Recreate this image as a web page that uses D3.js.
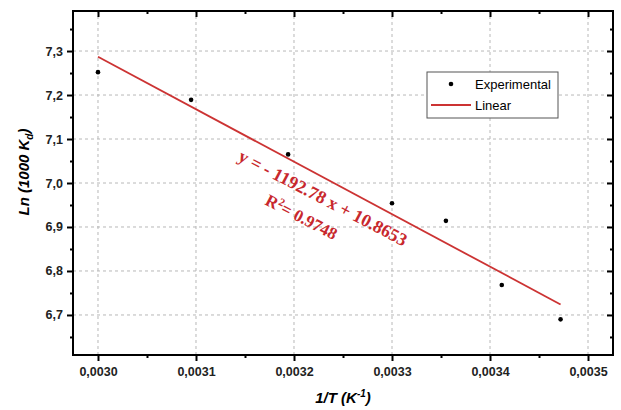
<!DOCTYPE html>
<meta charset="utf-8">
<head>
<style>
  body { margin: 0; background: #fff; }
  svg { display: block; font-family: Arial, "Liberation Sans", sans-serif; }
</style>
</head>
<body>
<svg id="chart" width="621" height="410"></svg>
<script src="https://cdnjs.cloudflare.com/ajax/libs/d3/7.8.5/d3.min.js"></script>
<script>

// data
var invT   = [0.0030, 0.003095, 0.003194, 0.0033, 0.003355, 0.003412, 0.003472];
var lnKd   = [7.252, 7.189, 7.065, 6.954, 6.914, 6.768, 6.690];
var xTicks = [0.0030, 0.0031, 0.0032, 0.0033, 0.0034, 0.0035];
var yTicks = [6.7, 6.8, 6.9, 7.0, 7.1, 7.2, 7.3];
var slope = -1192.78, intercept = 10.8653;
var fitLabel = "y = - 1192.78 x + 10.8653";
var r2Label = "0.9748";

var svg = d3.select("#chart");
var margin = {left: 73, right: 8, top: 11, bottom: 55};
var width = 621, height = 410;

var x = d3.scaleLinear().domain([0.0029745, 0.0035255]).range([margin.left, width - margin.right]);
var y = d3.scaleLinear().domain([6.609, 7.391]).range([height - margin.bottom, margin.top]);

var comma = function(d, n){ return d.toFixed(n).replace(".", ","); };
var xMinor = d3.range(0.00305, 0.0035, 0.0001);
var yMinor = d3.range(6.65, 7.39, 0.1);

// grid
var grid = svg.append("g").attr("stroke", "#b8b8b8").attr("stroke-dasharray", "3,3").attr("stroke-width", 1);
grid.selectAll("line.gx").data(xTicks).enter().append("line")
  .attr("x1", d => x(d)).attr("x2", d => x(d))
  .attr("y1", y.range()[0]).attr("y2", y.range()[1]);
grid.selectAll("line.gy").data(yTicks).enter().append("line")
  .attr("y1", d => y(d)).attr("y2", d => y(d))
  .attr("x1", x.range()[0]).attr("x2", x.range()[1]);

// axes (out on left/bottom, in on top/right)
function styleAxis(g){
  g.select(".domain").remove();
  g.selectAll("line").attr("stroke", "#000").attr("stroke-width", 2);
  g.selectAll("text").attr("font-weight", "bold").attr("font-size", 12.5).attr("fill", "#222");
}
svg.append("g").attr("transform", "translate(0," + y.range()[0] + ")")
  .call(d3.axisBottom(x).tickValues(xTicks).tickSize(6).tickPadding(6).tickFormat(d => comma(d, 4)))
  .call(styleAxis);
svg.append("g").attr("transform", "translate(0," + y.range()[0] + ")")
  .call(d3.axisBottom(x).tickValues(xMinor).tickSize(3).tickFormat(""))
  .call(styleAxis);
svg.append("g").attr("transform", "translate(" + x.range()[0] + ",0)")
  .call(d3.axisLeft(y).tickValues(yTicks).tickSize(6).tickPadding(4).tickFormat(d => comma(d, 1)))
  .call(styleAxis);
svg.append("g").attr("transform", "translate(" + x.range()[0] + ",0)")
  .call(d3.axisLeft(y).tickValues(yMinor).tickSize(3).tickFormat(""))
  .call(styleAxis);
svg.append("g").attr("transform", "translate(0," + y.range()[1] + ")")
  .call(d3.axisBottom(x).tickValues(xTicks).tickSize(6).tickFormat(""))
  .call(styleAxis);
svg.append("g").attr("transform", "translate(0," + y.range()[1] + ")")
  .call(d3.axisBottom(x).tickValues(xMinor).tickSize(3).tickFormat(""))
  .call(styleAxis);
svg.append("g").attr("transform", "translate(" + x.range()[1] + ",0)")
  .call(d3.axisRight(y).tickValues(yTicks).tickSize(-6).tickFormat(""))
  .call(styleAxis);
svg.append("g").attr("transform", "translate(" + x.range()[1] + ",0)")
  .call(d3.axisRight(y).tickValues(yMinor).tickSize(-3).tickFormat(""))
  .call(styleAxis);

// frame
svg.append("rect")
  .attr("x", x.range()[0]).attr("y", y.range()[1])
  .attr("width", x.range()[1] - x.range()[0]).attr("height", y.range()[0] - y.range()[1])
  .attr("fill", "none").attr("stroke", "#000").attr("stroke-width", 2);

// fit line
var x0 = invT[0], x1 = invT[invT.length - 1];
svg.append("line")
  .attr("x1", x(x0)).attr("y1", y(slope * x0 + intercept))
  .attr("x2", x(x1)).attr("y2", y(slope * x1 + intercept))
  .attr("stroke", "#cc3333").attr("stroke-width", 1.8);

// points
svg.selectAll("circle.pt").data(invT).enter().append("circle")
  .attr("cx", d => x(d)).attr("cy", (d, i) => y(lnKd[i]))
  .attr("r", 2.3).attr("fill", "#000");

// annotation
var ang = 27.5;
svg.append("text")
  .attr("transform", "translate(237,160) rotate(" + ang + ")")
  .attr("font-family", "'Liberation Serif', 'DejaVu Serif', serif")
  .attr("font-weight", "bold").attr("font-size", 18).attr("fill", "#c8282d")
  .text(fitLabel);
var r2 = svg.append("text")
  .attr("transform", "translate(264,204) rotate(" + ang + ")")
  .attr("font-family", "'Liberation Serif', 'DejaVu Serif', serif")
  .attr("font-weight", "bold").attr("font-size", 17).attr("fill", "#c8282d");
r2.append("tspan").text("R");
r2.append("tspan").attr("dy", -6).attr("font-size", 11).text("2");
r2.append("tspan").attr("dy", 6).text("= " + r2Label);

// legend
var lg = svg.append("g");
lg.append("rect").attr("x", 427).attr("y", 72).attr("width", 131).attr("height", 46)
  .attr("fill", "#fff").attr("stroke", "#555").attr("stroke-width", 1);
lg.append("circle").attr("cx", 451).attr("cy", 84).attr("r", 2.3).attr("fill", "#000");
lg.append("text").attr("x", 475).attr("y", 89).attr("font-size", 13).text("Experimental");
lg.append("line").attr("x1", 431).attr("x2", 471).attr("y1", 105).attr("y2", 105)
  .attr("stroke", "#cc3333").attr("stroke-width", 1.8);
lg.append("text").attr("x", 475).attr("y", 110).attr("font-size", 13).text("Linear");

// axis titles
var xt = svg.append("text").attr("x", (x.range()[0] + x.range()[1]) / 2).attr("y", 403)
  .attr("text-anchor", "middle").attr("font-weight", "bold").attr("font-style", "italic").attr("font-size", 15);
xt.append("tspan").text("1/T (K");
xt.append("tspan").attr("dy", -6).attr("font-size", 10).text("-1");
xt.append("tspan").attr("dy", 6).text(")");

var yt = svg.append("text").attr("transform", "translate(29,172) rotate(-90)")
  .attr("text-anchor", "middle").attr("font-weight", "bold").attr("font-style", "italic").attr("font-size", 15);
yt.append("tspan").text("Ln (1000 K");
yt.append("tspan").attr("dy", 4).attr("font-size", 10).text("d");
yt.append("tspan").attr("dy", -4).text(")");

</script>
</body>
